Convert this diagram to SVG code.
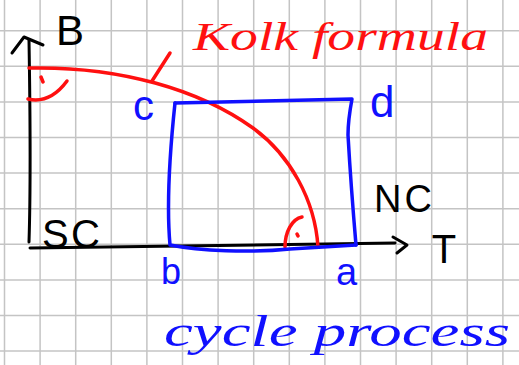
<svg xmlns="http://www.w3.org/2000/svg" width="519" height="365" viewBox="0 0 519 365">
<style>
.grid line{stroke:#c4c4c4;stroke-width:1.5}
.ink{fill:none;stroke-linecap:round;stroke-linejoin:round}
.k{stroke:#000;stroke-width:3}
.r{stroke:#ff1010;stroke-width:3.5}
.b{stroke:#1010ff;stroke-width:3.5}
.t{font-family:"Liberation Sans","DejaVu Sans",sans-serif}
.script{font-family:"Liberation Serif","DejaVu Serif",serif;font-style:italic}
</style>
<rect width="519" height="365" fill="#fff"/>
<g id="grid" class="grid">
<line x1="4.5" y1="0" x2="4.5" y2="365"/><line x1="40.1" y1="0" x2="40.1" y2="365"/><line x1="75.7" y1="0" x2="75.7" y2="365"/><line x1="111.3" y1="0" x2="111.3" y2="365"/><line x1="146.9" y1="0" x2="146.9" y2="365"/><line x1="182.5" y1="0" x2="182.5" y2="365"/><line x1="218.1" y1="0" x2="218.1" y2="365"/><line x1="253.7" y1="0" x2="253.7" y2="365"/><line x1="289.3" y1="0" x2="289.3" y2="365"/><line x1="324.9" y1="0" x2="324.9" y2="365"/><line x1="360.5" y1="0" x2="360.5" y2="365"/><line x1="396.1" y1="0" x2="396.1" y2="365"/><line x1="431.7" y1="0" x2="431.7" y2="365"/><line x1="467.3" y1="0" x2="467.3" y2="365"/><line x1="502.9" y1="0" x2="502.9" y2="365"/>
<line x1="0" y1="30.7" x2="519" y2="30.7"/><line x1="0" y1="66.3" x2="519" y2="66.3"/><line x1="0" y1="101.9" x2="519" y2="101.9"/><line x1="0" y1="137.5" x2="519" y2="137.5"/><line x1="0" y1="173.1" x2="519" y2="173.1"/><line x1="0" y1="208.7" x2="519" y2="208.7"/><line x1="0" y1="244.3" x2="519" y2="244.3"/><line x1="0" y1="279.9" x2="519" y2="279.9"/><line x1="0" y1="315.5" x2="519" y2="315.5"/><line x1="0" y1="351.1" x2="519" y2="351.1"/>
</g>
<g id="connectors">
<path id="b-axis" class="ink k" d="M29,40 C30,100 31,180 29,242"/>
<path class="ink k" d="M12,53 L24,37 L43,45"/>
<path id="t-axis" class="ink k" d="M30,248 L395,243"/>
<path class="ink k" d="M393,237 L407,245 L397,253"/>
</g>
<g id="kolk-curve">
<path class="ink r" d="M29,68 C120,66 200,90 253,128 C290,155 315,200 318,247"/>
<path class="ink r" d="M152,81 L170,53"/>
<path class="ink r" d="M28,99 Q50,104 67,81"/>
<path class="ink r" d="M41,77 L43,82"/>
<path class="ink r" d="M285,247 C285,232 292,219 302,217"/>
<path class="ink r" d="M297,234 L298,236"/>
</g>
<g id="cycle">
<path class="ink b" d="M175,103 L352,99 C349,115 348,125 348,135 C350,170 353,210 356,245"/>
<path class="ink b" d="M175,103 C170,150 166,200 170,245 C200,251 250,253 290,249 C320,247 340,246 356,245"/>
</g>
<g id="labels">
<text class="t" x="56" y="45" font-size="42">B</text>
<text class="t" x="42" y="248" font-size="40" textLength="58">SC</text>
<text class="t" x="374" y="212" font-size="38" letter-spacing="3">NC</text>
<text class="t" x="444" y="263" font-size="40" text-anchor="middle">T</text>
<text class="t" x="133" y="120" font-size="42" fill="#1010ff">c</text>
<text class="t" x="370" y="117" font-size="44" fill="#1010ff">d</text>
<text class="t" x="161" y="284" font-size="36" fill="#1010ff">b</text>
<text class="t" x="336" y="285" font-size="38" fill="#1010ff">a</text>
<text class="script" x="193" y="50" font-size="40" fill="#ff1010" textLength="295" lengthAdjust="spacingAndGlyphs">Kolk formula</text>
<text class="script" x="164" y="346" font-size="44" fill="#1010ff" textLength="346" lengthAdjust="spacingAndGlyphs">cycle process</text>
</g>
</svg>
